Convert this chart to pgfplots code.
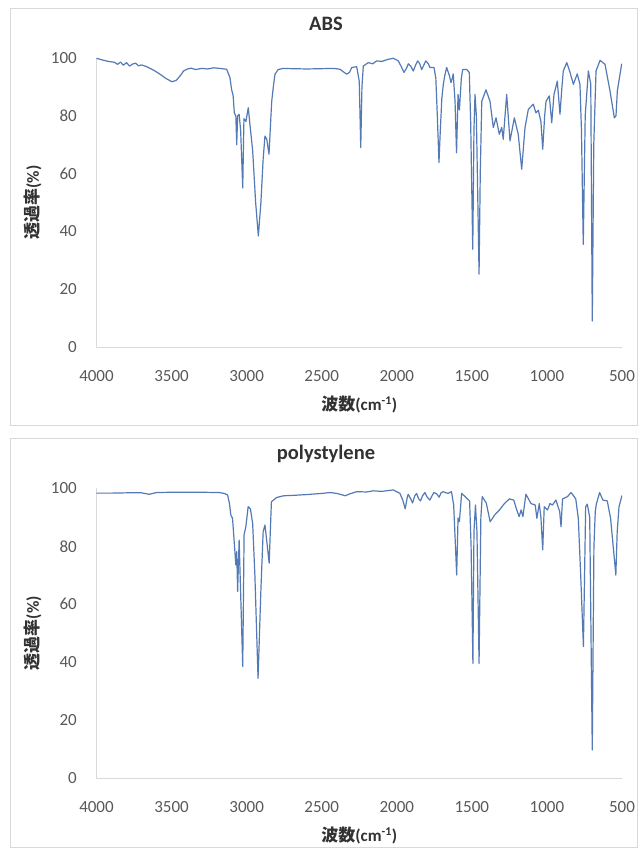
\documentclass[border=0pt]{standalone}
\usepackage{fontspec}
\setmainfont{Carlito}
\newfontfamily\cjk{Noto Sans CJK JP}
\usepackage{pgfplots}
\pgfplotsset{compat=1.18}
\definecolor{axisgray}{RGB}{217,217,217}
\definecolor{tickgray}{RGB}{89,89,89}
\definecolor{labgray}{RGB}{50,50,50}
\definecolor{specblue}{RGB}{84,122,182}
\pgfplotsset{irstyle/.style={
  anchor=south west, scale only axis, width=525.5pt,
  x dir=reverse, xmin=500, xmax=4000, ymin=0, ymax=100,
  xtick={500,1000,...,4000}, ytick={0,20,...,100},
  axis lines*=left, axis line style={draw=axisgray, line width=0.9pt},
  major tick length=0pt,
  tick label style={font=\fontsize{17}{17}\selectfont, text=tickgray, inner sep=0pt},
  xticklabel style={anchor=center, yshift=-29pt},
  yticklabel style={anchor=east, xshift=-19.5pt},
  /pgf/number format/1000 sep={}, /pgf/number format/assume math mode=true,
  scaled ticks=false,
  xlabel={\bfseries{\cjk 波数}(cm\textsuperscript{-1})},
  xlabel style={at={(axis description cs:0.5,-0.2)}, anchor=center, font=\fontsize{17}{17}\selectfont, text=labgray},
  ylabel={\bfseries{\cjk 透過率}(\%)},
  ylabel style={at={(axis description cs:-0.1208,0.5)}, anchor=center, font=\fontsize{17}{17}\selectfont, text=labgray},
  title style={at={(axis description cs:0.4367,1.097)}, anchor=center, font=\fontsize{20.5}{20.5}\selectfont\bfseries, text=labgray},
}}
\begin{document}
\begin{tikzpicture}[x=1pt,y=1pt]
\fill[white] (0pt,0pt) rectangle (641pt,850pt);
\useasboundingbox (0pt,0pt) rectangle (641pt,850pt);
\draw[axisgray, line width=1pt] (10pt,424pt) rectangle (637pt,841pt);
\draw[axisgray, line width=1pt] (10pt,2pt) rectangle (637pt,411pt);
\begin{axis}[irstyle, at={(96.5pt,503pt)}, height=289pt, title={ABS}]
\addplot[specblue, line width=1.2pt, line join=round] coordinates {
(4000,99.9)(3960,99.3)(3920,98.8)(3880,98.5)(3860,97.8)(3840,98.6)(3821,97.5)(3800,98.4)
(3780,97.2)(3760,97.9)(3740,98.2)(3720,97.3)(3700,97.6)(3666,97.0)(3620,95.8)(3580,94.5)
(3540,93.0)(3499,91.8)(3470,92.2)(3440,94.0)(3420,95.5)(3399,96.1)(3370,96.5)(3340,96.0)
(3300,96.4)(3260,96.2)(3220,96.6)(3180,96.4)(3133,96.1)(3111,93.2)(3100,89.0)(3090,87)
(3082,81)(3072,80)(3066,70)(3060,80)(3050,80.5)(3040,75)(3026,55)(3018,79)(3005,78)
(2995,81)(2989,82.8)(2978,77)(2960,68)(2940,50)(2922,38.4)(2905,50)(2890,65)(2878,73)
(2866,71.9)(2851,66.7)(2840,78)(2833,85)(2820,91)(2811,94.4)(2790,96)(2756,96.4)
(2700,96.3)(2600,96.2)(2500,96.3)(2420,96.4)(2378,96.1)(2345,94.8)(2334,94.4)(2315,95)
(2300,96.7)(2267,97.0)(2250,92)(2240,69)(2232,90)(2223,97.2)(2190,98.4)(2160,98.0)
(2134,99.0)(2100,98.8)(2060,99.5)(2023,99.9)(1990,99.0)(1970,97)(1952,95.0)(1935,96.5)
(1923,98.0)(1905,97)(1890,95.5)(1875,97.5)(1861,99.0)(1847,98)(1834,96.0)(1820,97.5)
(1807,99.0)(1790,98)(1779,96.7)(1752,96.7)(1740,93)(1730,80)(1719,63.8)(1710,75)
(1700,86)(1690,90.9)(1680,94)(1668,96.7)(1650,94)(1639,91.5)(1630,93)(1624,94.5)
(1612,85)(1602,67.2)(1592,87.4)(1583,82)(1570,93)(1561,96.0)(1534,96.0)(1517,95.0)
(1508,78.0)(1494,33.8)(1486,75)(1479,87.4)(1470,80)(1460,50)(1452,25.2)(1444,60)
(1434,85.0)(1406,89.0)(1379,85.0)(1357,75.9)(1339,79.3)(1317,73.6)(1301,76.0)(1291,71.9)
(1268,87.4)(1246,71.3)(1217,79.3)(1191,73.6)(1168,61.5)(1146,75.9)(1124,82.2)(1091,84.0)
(1073,81.0)(1057,81.9)(1040,78)(1028,68.4)(1015,80)(1006,85.0)(984,86.9)(968,77.6)
(953,87.4)(931,92.0)(913,80.5)(900,90)(891,95.5)(868,98.4)(846,95.0)(824,90.9)
(798,94.5)(780,90.9)(770,75)(758,35.5)(745,80)(724,95.5)(708,90.9)(698,9.0)(688,70)
(673,95.5)(646,99.2)(613,97.8)(580,88.6)(551,79.3)(540,80)(531,88.6)(502,98.0)
};
\end{axis}
\begin{axis}[irstyle, at={(96.5pt,72pt)}, height=289.5pt, title={polystylene}]
\addplot[specblue, line width=1.2pt, line join=round] coordinates {
(4000,98.4)(3900,98.4)(3800,98.5)(3700,98.5)(3649,98.0)(3600,98.6)(3500,98.7)(3400,98.7)
(3300,98.7)(3183,98.6)(3150,98.3)(3127,97.8)(3115,95)(3105,90.8)(3094,89.7)(3082,81)
(3072,73.6)(3066,78.2)(3060,64.4)(3050,82.2)(3026,38.5)(3017,84)(3005,86.9)(2990,93.7)
(2975,93)(2960,88)(2945,70)(2924,34.4)(2905,65)(2890,85)(2878,87.4)(2862,80)(2850,74.2)
(2835,95.4)(2800,96.9)(2752,97.5)(2700,97.6)(2600,97.9)(2500,98.3)(2443,98.6)(2400,98.3)
(2343,97.5)(2310,98.2)(2266,98.9)(2200,98.8)(2156,99.2)(2100,99.0)(2023,99.5)(1979,98.3)
(1960,96)(1944,93)(1930,97)(1924,98)(1908,96.5)(1895,95)(1880,97.5)(1868,98.3)
(1855,96.5)(1842,95.7)(1828,97.5)(1813,98.6)(1797,97)(1780,96)(1765,97.5)(1753,98.6)
(1735,98.2)(1718,97)(1705,98.5)(1692,98.9)(1659,98.3)(1636,98.9)(1621,94.3)(1601,70.1)
(1592,89.8)(1583,88.6)(1568,98.3)(1541,97.0)(1515,95.7)(1505,80)(1493,39.6)(1486,85)
(1476,94.3)(1466,85)(1452,39.6)(1440,90)(1431,97.2)(1404,95.0)(1378,88.5)(1349,90.8)
(1316,92.6)(1283,94.8)(1250,96.4)(1221,96.0)(1201,92.6)(1185,90.3)(1172,92.6)(1160,90.3)
(1140,98.0)(1106,94.8)(1078,94.3)(1067,89.7)(1051,94.8)(1040,90)(1028,78.8)(1018,93.7)
(996,92.6)(980,94.8)(963,94.3)(940,96.0)(915,92)(906,86.8)(896,96.4)(863,97.2)
(840,98.6)(830,98.0)(808,96.4)(791,89.7)(775,70)(757,45.4)(742,93.7)(731,94.6)
(715,90)(698,9.7)(687,80)(678,92)(671,94.6)(649,98.6)(627,96.0)(598,95.7)(576,89.7)
(555,78)(541,70.1)(532,85)(520,93.7)(500,97.6)
};
\end{axis}
\end{tikzpicture}
\end{document}
